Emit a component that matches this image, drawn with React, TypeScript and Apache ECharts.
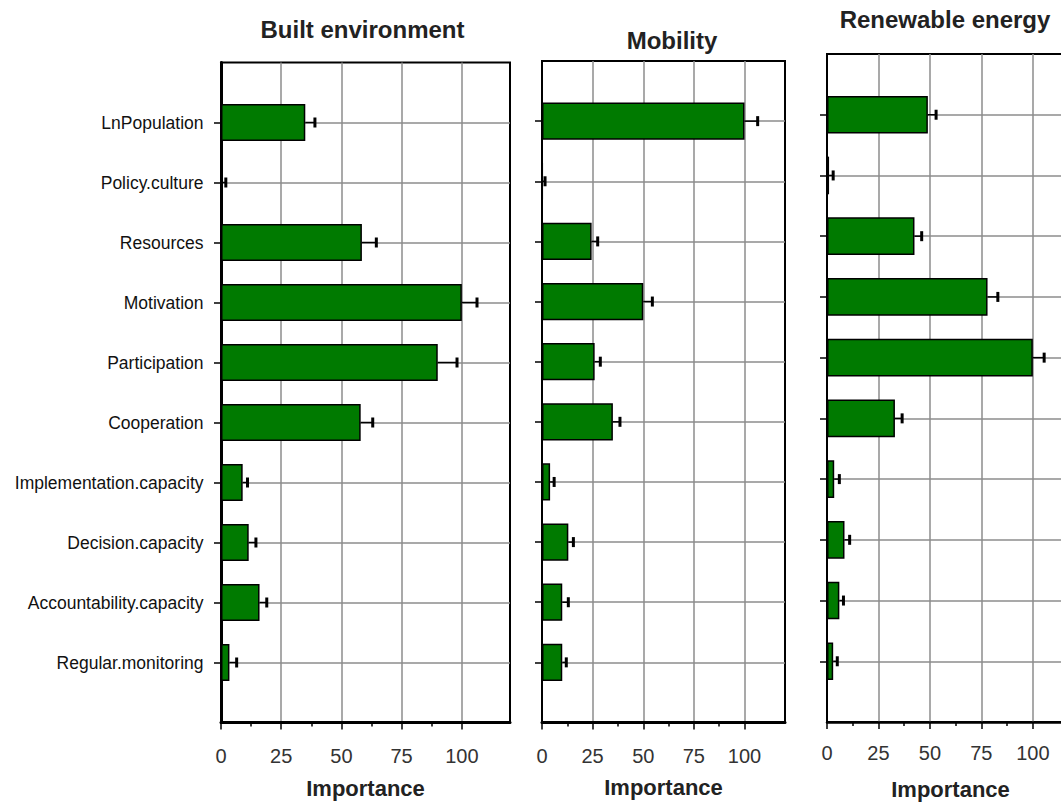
import React, { useEffect, useRef } from 'react';
import * as echarts from 'echarts';

// ---- data ----
const categories = [
  'LnPopulation',
  'Policy.culture',
  'Resources',
  'Motivation',
  'Participation',
  'Cooperation',
  'Implementation.capacity',
  'Decision.capacity',
  'Accountability.capacity',
  'Regular.monitoring',
];

const builtValues = [35, 0.5, 58.5, 100, 90, 58, 9, 11.5, 16, 3.5];
const builtErrors = [4, 1.5, 6, 6.3, 8, 5, 2, 3, 3, 3];

const mobilityValues = [100, 0.3, 24.5, 50, 26, 35, 4, 13, 10, 10];
const mobilityErrors = [6.5, 1.2, 3, 4.5, 2.8, 3.5, 2, 2.5, 3, 2];

const renewableValues = [49, 1, 42.5, 78, 100, 33, 3.5, 8.5, 6, 3];
const renewableErrors = [4, 2, 3.5, 5, 5.5, 3.5, 2.5, 2.5, 2, 2];

const majorTicks = [0, 25, 50, 75, 100];
const minorTicks = [12.5, 37.5, 62.5, 87.5];
const panelTitles = ['Built environment', 'Mobility', 'Renewable energy'];
const axisTitle = 'Importance';

// ---- layout / style ----
const FONT = 'Liberation Sans, Arial, sans-serif';
const BAR_COLOR = '#007a00';
const GRID_COLOR = '#8c8c8c';

const layouts = [
  { left: 221, top: 62.5, width: 289, height: 660, showLabels: true, leftW: 3, bottomW: 3, titleX: 362.5, titleY: 29, labelMargin: 23.5, nameGap: 54.5 },
  { left: 542, top: 61, width: 243, height: 661.5, showLabels: false, leftW: 2, bottomW: 3, titleX: 672, titleY: 40, labelMargin: 23, nameGap: 54 },
  { left: 827, top: 54, width: 247, height: 672, showLabels: false, leftW: 2, bottomW: 2.5, titleX: 945, titleY: 19, labelMargin: 21, nameGap: 56 },
];

const panelData = [
  { values: builtValues, errors: builtErrors },
  { values: mobilityValues, errors: mobilityErrors },
  { values: renewableValues, errors: renewableErrors },
];

const yCats = [' ', ...categories, '  '];

function buildOption() {
  const grid: any[] = [];
  const xAxis: any[] = [];
  const yAxis: any[] = [];
  const series: any[] = [];
  const graphic: any[] = [];

  layouts.forEach((L, p) => {
    grid.push({
      left: L.left,
      top: L.top,
      width: L.width,
      height: L.height,
      show: true,
      borderColor: '#000',
      borderWidth: 2,
      backgroundColor: 'transparent',
      containLabel: false,
    });

    // main value axis
    xAxis.push({
      type: 'value',
      gridIndex: p,
      position: 'bottom',
      min: 0,
      max: 120,
      interval: 25,
      name: axisTitle,
      nameLocation: 'middle',
      nameGap: L.nameGap,
      nameTextStyle: { fontFamily: FONT, fontSize: 22, fontWeight: 'bold', color: '#222' },
      axisLine: { show: true, onZero: false, lineStyle: { color: '#000', width: L.bottomW } },
      axisTick: { show: true, length: 7, customValues: majorTicks, lineStyle: { color: '#000', width: 1.5 } },
      axisLabel: {
        show: true,
        customValues: majorTicks,
        margin: L.labelMargin,
        fontFamily: FONT,
        fontSize: 20,
        color: '#333',
      },
      splitLine: { show: true, lineStyle: { color: GRID_COLOR, width: 1.5 } },
    });
    // minor tick overlay axis
    xAxis.push({
      type: 'value',
      gridIndex: p,
      position: 'bottom',
      min: 0,
      max: 120,
      interval: 25,
      axisLine: { show: false },
      axisTick: { show: true, length: 4, customValues: minorTicks, lineStyle: { color: '#000', width: 1.5 } },
      axisLabel: { show: false },
      splitLine: { show: false },
    });

    yAxis.push({
      type: 'category',
      gridIndex: p,
      data: yCats,
      inverse: true,
      boundaryGap: false,
      axisLine: { show: true, onZero: false, lineStyle: { color: '#000', width: L.leftW } },
      axisTick: {
        show: true,
        length: 7,
        interval: (i: number) => i > 0 && i < yCats.length - 1,
        lineStyle: { color: '#000', width: 1.5 },
      },
      axisLabel: {
        show: L.showLabels,
        interval: (i: number) => i > 0 && i < yCats.length - 1,
        margin: 17.5,
        fontFamily: FONT,
        fontSize: 17.5,
        color: '#111',
      },
      splitLine: {
        show: true,
        interval: (i: number) => i > 0 && i < yCats.length - 1,
        lineStyle: { color: GRID_COLOR, width: 1.5 },
      },
    });

    const { values, errors } = panelData[p];
    series.push({
      type: 'bar',
      xAxisIndex: p * 2,
      yAxisIndex: p,
      data: [null, ...values, null],
      barWidth: '62%',
      itemStyle: { color: BAR_COLOR, borderColor: '#000', borderWidth: 1.5 },
      z: 3,
    });
    series.push({
      type: 'custom',
      xAxisIndex: p * 2,
      yAxisIndex: p,
      encode: { x: [0, 1], y: 2 },
      data: values.map((v, i) => [v, v + errors[i], i + 1]),
      z: 4,
      renderItem: (params: any, api: any) => {
        const lo = api.coord([api.value(0), api.value(2)]);
        const hi = api.coord([api.value(1), api.value(2)]);
        return {
          type: 'group',
          children: [
            {
              type: 'line',
              shape: { x1: lo[0], y1: lo[1], x2: hi[0], y2: hi[1] },
              style: { stroke: '#000', lineWidth: 1.5 },
            },
            {
              type: 'rect',
              shape: { x: hi[0] - 1.5, y: hi[1] - 5, width: 3, height: 10 },
              style: { fill: '#000' },
            },
          ],
        };
      },
    });

    graphic.push({
      type: 'text',
      x: L.titleX,
      y: L.titleY,
      style: {
        text: panelTitles[p],
        fontFamily: FONT,
        fontSize: 24,
        fontWeight: 'bold',
        fill: '#222',
        align: 'center',
        verticalAlign: 'middle',
      },
    });
  });

  return {
    animation: false,
    backgroundColor: '#fff',
    grid,
    xAxis,
    yAxis,
    series,
    graphic,
  };
}

export default function App() {
  const ref = useRef<HTMLDivElement>(null);
  useEffect(() => {
    if (!ref.current) return;
    const chart = echarts.init(ref.current, undefined, { renderer: 'svg' });
    chart.setOption(buildOption() as any);
    return () => chart.dispose();
  }, []);
  return (
    <div
      style={{ position: 'fixed', left: 0, top: 0, width: 1061, height: 805, overflow: 'hidden', background: '#fff' }}
    >
      <div ref={ref} style={{ width: 1090, height: 805 }} />
    </div>
  );
}
